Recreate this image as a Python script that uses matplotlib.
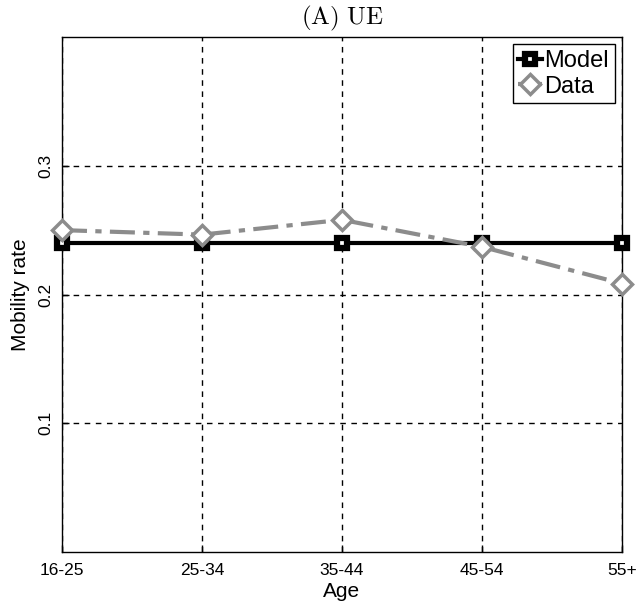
import matplotlib
matplotlib.use("Agg")
import matplotlib.pyplot as plt

ages = ["16-25", "25-34", "35-44", "45-54", "55+"]
model = [0.240, 0.240, 0.240, 0.240, 0.240]
data = [0.250, 0.2465, 0.258, 0.237, 0.2085]
yticks = [0.1, 0.2, 0.3]

plt.rcParams['font.family'] = ['Liberation Sans', 'DejaVu Sans']
plt.rcParams['mathtext.fontset'] = 'cm'

fig = plt.figure(figsize=(6.36, 6.11), dpi=100)
ax = fig.add_axes([62/636, 59/611, 560/636, 515/611])
x = list(range(len(ages)))

ax.plot(x, model, color='black', lw=3, marker='s', ms=7, mfc='white',
        mec='black', mew=4.5, label='Model', zorder=3, clip_on=False)
ax.plot(x, data, color='#8c8c8c', lw=3, ls=(0, (6, 2, 1.5, 2)), marker='D', ms=10,
        mfc='white', mec='#8c8c8c', mew=2.5, label='Data', zorder=4, clip_on=False)

ax.set_xlim(0, 4)
ax.set_ylim(0, 0.4)
ax.set_xticks(x)
ax.set_xticklabels(ages, fontsize=12.5)
ax.set_yticks(yticks)
ax.set_yticklabels([f"{v:.1f}" for v in yticks], fontsize=12.5, rotation=90, va='center')
ax.tick_params(axis='x', pad=8)
ax.tick_params(axis='y', pad=6)
ax.tick_params(direction='in', length=5, width=1, top=False, right=False)
ax.grid(True, color='black', ls=(0, (4, 4)), lw=1)
for s in ax.spines.values():
    s.set_linewidth(1)
ax.set_xlabel("Age", fontsize=15, labelpad=3)
ax.set_ylabel("Mobility rate", fontsize=15, labelpad=6)
ax.set_title(r"$\mathrm{(A)\ UE}$", fontsize=18, pad=9)

leg = ax.legend(loc='upper right', fontsize=17, frameon=True, fancybox=False,
                edgecolor='black', handlelength=1.0, handletextpad=0.1,
                borderpad=0.25, labelspacing=0.15, borderaxespad=0.3)
leg.get_frame().set_linewidth(1)
leg.get_frame().set_alpha(1)

fig.savefig("out.png", dpi=100)
